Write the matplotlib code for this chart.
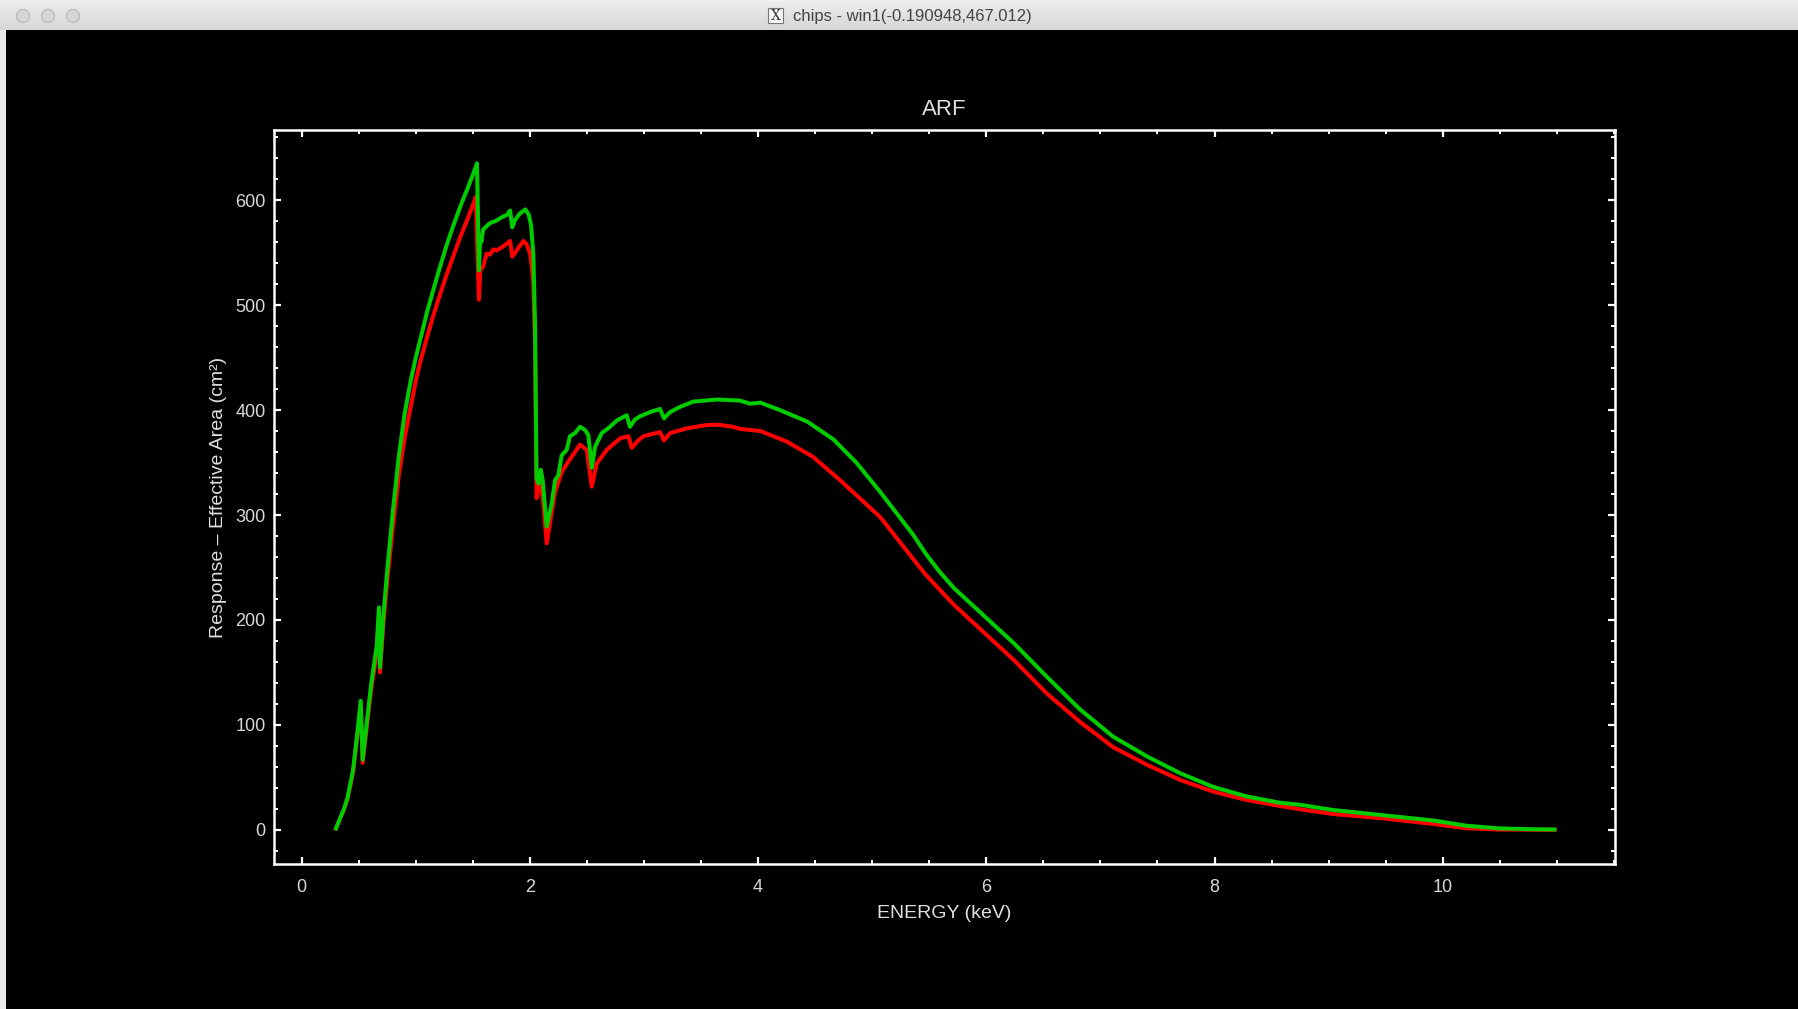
import numpy as np
import matplotlib
matplotlib.use("Agg")
import matplotlib.pyplot as plt
from matplotlib.patches import Rectangle, Circle
from matplotlib.ticker import MultipleLocator

plt.rcParams['font.family'] = ['Liberation Sans', 'DejaVu Sans']

# ARF curves (energy in keV, effective area in cm^2)
energy_a = [0.30, 0.37, 0.40, 0.45, 0.49, 0.517, 0.534, 0.57, 0.61, 0.657, 0.677, 0.686,
            0.715, 0.75, 0.80, 0.85, 0.90, 0.935, 1.00, 1.037, 1.10, 1.154, 1.20, 1.27,
            1.33, 1.387, 1.45, 1.50, 1.525, 1.553, 1.565, 1.592, 1.62, 1.65, 1.68, 1.709,
            1.767, 1.78, 1.826, 1.845, 1.884, 1.942, 1.971, 2.001, 2.016, 2.03, 2.045,
            2.058, 2.088, 2.112, 2.147, 2.22, 2.279, 2.337, 2.395, 2.439, 2.498, 2.542,
            2.585, 2.673, 2.79, 2.863, 2.892, 2.95, 2.994, 3.14, 3.175, 3.228, 3.374,
            3.55, 3.65, 3.78, 3.84, 4.02, 4.25, 4.48, 4.72, 5.07, 5.36, 5.47, 5.59, 5.72,
            5.89, 6.24, 6.53, 6.82, 7.11, 7.41, 7.70, 7.99, 8.28, 8.57, 8.75, 9.04, 9.48,
            9.92, 10.21, 10.50, 10.98]
area_a = [1.4, 19.5, 29, 55, 92, 119, 64, 98, 135, 168, 204, 150,
          195, 238, 290, 337, 372, 392, 428, 445, 470, 490, 506, 529,
          547, 564, 581, 595, 603, 505, 533, 537, 549, 548, 553, 552,
          556, 557, 561, 546, 552, 561, 558, 549, 537, 520, 460,
          316, 329, 318, 273, 322, 341, 351, 360, 367, 362, 327,
          349, 362, 373, 375, 364, 371, 375, 379, 371, 378, 382.5,
          385.7, 386, 384, 382, 380, 370, 355.5, 333, 298, 258, 243, 229, 214,
          197, 162, 130, 103, 79, 62, 47.6, 36.5, 28.6, 23, 19.7, 15.2, 11,
          5.7, 1.6, 0.4, 0.2]

energy_b = [0.30, 0.37, 0.40, 0.45, 0.49, 0.517, 0.534, 0.57, 0.61, 0.657, 0.677, 0.686,
            0.715, 0.75, 0.80, 0.85, 0.90, 0.95, 1.00, 1.05, 1.10, 1.155, 1.20, 1.27,
            1.33, 1.39, 1.45, 1.50, 1.536, 1.553, 1.565, 1.575, 1.59, 1.62, 1.65, 1.70,
            1.76, 1.80, 1.826, 1.845, 1.87, 1.91, 1.96, 1.99, 2.01, 2.03, 2.045, 2.058,
            2.075, 2.095, 2.112, 2.147, 2.191, 2.22, 2.249, 2.279, 2.322, 2.351, 2.395,
            2.439, 2.483, 2.512, 2.542, 2.571, 2.629, 2.702, 2.761, 2.848, 2.877, 2.921,
            2.965, 3.053, 3.14, 3.175, 3.228, 3.316, 3.43, 3.64, 3.84, 3.93, 4.02, 4.19,
            4.43, 4.66, 4.86, 5.07, 5.36, 5.47, 5.59, 5.72, 5.89, 6.24, 6.53, 6.82, 7.11,
            7.41, 7.70, 7.99, 8.28, 8.57, 8.75, 9.04, 9.48, 9.92, 10.21, 10.50, 10.79,
            10.98]
area_b = [1.5, 20, 30, 57, 95, 123, 67, 102, 140, 175, 212, 155,
          203, 248, 305, 355, 395, 425, 450, 472, 494, 515, 532, 557,
          576, 594, 610, 624, 635, 533, 566, 560, 572, 575, 578, 580,
          584, 586, 590, 574, 581, 587, 591, 586, 576, 548, 480, 335,
          330, 343, 333, 289, 311, 333, 338, 357, 362, 375, 378,
          384, 381, 376, 345, 365, 378, 384, 390, 395, 384, 391,
          394, 398, 401, 392, 398, 403, 408, 410, 409, 406, 407, 400,
          389, 372, 350, 322, 281, 263, 246, 230, 213, 178, 146, 115, 89,
          70, 54, 41, 32, 26, 24, 19, 14, 9, 4, 1.5, 0.7,
          0.5]

W, H = 1798, 1009
fig = plt.figure(figsize=(W / 100, H / 100), dpi=100, facecolor='black')

# window title bar
bar = fig.add_axes([0, 1 - 30 / H, 1, 30 / H])
bar.set_xlim(0, W)
bar.set_ylim(30, 0)
bar.axis('off')
grad = np.linspace(0.93, 0.84, 30).reshape(-1, 1) * np.ones((1, 10))
bar.imshow(grad, cmap='gray', vmin=0, vmax=1, extent=[0, W, 30, 0], aspect='auto')
for cx in [23, 48, 73]:
    bar.add_patch(Circle((cx, 16), 6.5, facecolor='#d6d6d6', edgecolor='#bdbdbd', lw=1))
bar.add_patch(Rectangle((768, 8), 15, 15, facecolor='#f4f4f4', edgecolor='#777777', lw=0.8))
bar.text(775.5, 16, 'X', ha='center', va='center', fontsize=10, color='#333333',
         family='DejaVu Serif')
bar.text(793, 16, 'chips - win1(-0.190948,467.012)', ha='left', va='center',
         fontsize=12, color='#444444')

# thin light strip on the left edge of the window
edge = fig.add_axes([0, 0, 6 / W, 1 - 30 / H])
edge.set_facecolor('#e9e9e9')
edge.set_xticks([])
edge.set_yticks([])
for s in edge.spines.values():
    s.set_visible(False)

ax = fig.add_axes([274 / W, 1 - 864 / H, (1615 - 274) / W, (864 - 130) / H])
ax.set_facecolor('black')
ax.plot(energy_a, area_a, color='#ff0000', lw=2.9)
ax.plot(energy_b, area_b, color='#00cc00', lw=2.9)

ax.set_xlim(-0.243, 11.51)
ax.set_ylim(-32.4, 666.7)
ax.xaxis.set_major_locator(MultipleLocator(2))
ax.xaxis.set_minor_locator(MultipleLocator(0.5))
ax.yaxis.set_major_locator(MultipleLocator(100))
ax.yaxis.set_minor_locator(MultipleLocator(20))

for s in ax.spines.values():
    s.set_color('white')
    s.set_linewidth(1.8)
ax.tick_params(which='both', direction='in', color='white', top=True, right=True,
               labelcolor='#d8d8d8', labelsize=13)
ax.tick_params(which='major', length=5, width=1.6)
ax.tick_params(which='minor', length=3, width=1.4)
ax.tick_params(axis='x', which='major', pad=11)
ax.tick_params(axis='y', which='major', pad=6)

ax.set_title('ARF', color='#e0e0e0', fontsize=16, pad=11)
ax.set_xlabel('ENERGY (keV)', color='#e0e0e0', fontsize=14, labelpad=6)
ax.set_ylabel('Response – Effective Area (cm²)', color='#e0e0e0', fontsize=14, labelpad=6)

fig.savefig('out.png', dpi=100, facecolor='black')
